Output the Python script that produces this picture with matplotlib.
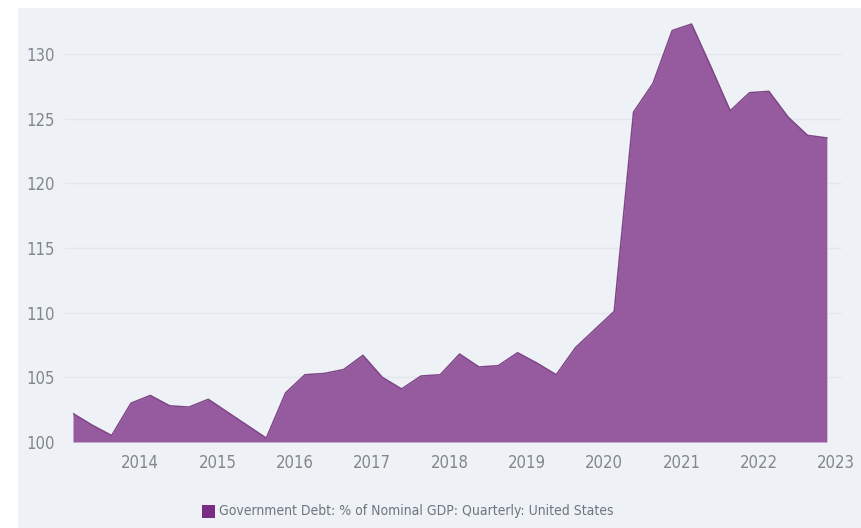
# US government debt as % of nominal GDP, quarterly area chart

import numpy as np
import matplotlib.pyplot as plt
from matplotlib.patches import Rectangle

# quarterly values (2013 Q1 .. 2022 Q4)
start_year = 2013.13
values = [102.2, 101.3, 100.5, 103.0, 103.6, 102.8, 102.7, 103.3, 102.3, 101.3,
          100.3, 103.8, 105.2, 105.3, 105.6, 106.7, 105.0, 104.1, 105.1, 105.2,
          106.8, 105.8, 105.9, 106.9, 106.1, 105.2, 107.3, 108.7, 110.1, 125.5,
          127.7, 131.8, 132.3, 129.0, 125.6, 127.0, 127.1, 125.1, 123.7, 123.5]
x = start_year + 0.25 * np.arange(len(values))

year_ticks = list(range(2014, 2024))
y_ticks = [100, 105, 110, 115, 120, 125, 130]
series_name = 'Government Debt: % of Nominal GDP: Quarterly: United States'

bg = '#eef2f6'
fill_col = '#965b9f'
edge_col = '#7e4587'
text_col = '#82878f'

fig = plt.figure(figsize=(8.61, 5.28), dpi=100, facecolor='white')
# light panel behind the chart, white margin at top and left
fig.patches.append(Rectangle((18 / 861, 0), 1, 1 - 8 / 528, transform=fig.transFigure,
                             facecolor=bg, edgecolor='none', zorder=-1))

ax = fig.add_axes([73 / 861, 1 - 442 / 528, 767 / 861, 427 / 528])
ax.set_facecolor(bg)
ax.fill_between(x, 100, values, color=fill_col, linewidth=0, zorder=2)
ax.plot(x, values, color=edge_col, linewidth=1.1, zorder=3)

ax.set_xlim(start_year, 2023.05)
ax.set_ylim(100, 133.0)
ax.set_xticks(year_ticks)
ax.set_yticks(y_ticks)
ax.tick_params(length=0, labelsize=12, labelcolor=text_col)
ax.tick_params(axis='x', pad=9)
ax.tick_params(axis='y', pad=13)
for lab in ax.get_xticklabels() + ax.get_yticklabels():
    lab.set_fontstretch('condensed')
for y in y_ticks[1:]:
    ax.axhline(y, xmin=-0.01, color='#e2e7ee', linewidth=1, zorder=1, clip_on=False)
for s in ax.spines.values():
    s.set_visible(False)

# legend below the axis
fig.patches.append(Rectangle((202 / 861, 1 - 518 / 528), 13 / 861, 13 / 528,
                             transform=fig.transFigure, facecolor='#7b2d83',
                             edgecolor='none'))
fig.text(219 / 861, 1 - 511 / 528, series_name, fontsize=10, fontstretch='condensed',
         color='#6f7580', va='center', ha='left')

plt.savefig('out.png', dpi=100, facecolor='white')
